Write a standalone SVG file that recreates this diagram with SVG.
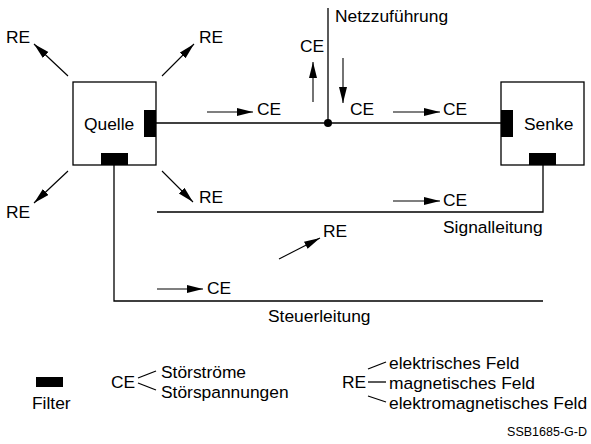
<svg xmlns="http://www.w3.org/2000/svg" width="591" height="444" viewBox="0 0 591 444">
<style>
text{font-family:"Liberation Sans",Arial,sans-serif;font-size:17.4px;fill:#000}
.box{fill:#fff;stroke:#000;stroke-width:1.3}
.flt{fill:#000}
.ln{fill:none;stroke:#000;stroke-width:1.3}
.ar{fill:none;stroke:#000;stroke-width:1.1;marker-end:url(#ah)}
.sm{font-size:12.5px}
</style>
<defs>
<marker id="ah" markerUnits="userSpaceOnUse" markerWidth="18" markerHeight="9" refX="16" refY="4" orient="auto">
<path d="M0,0 L16,4 L0,8 z" fill="#000"/>
</marker>
</defs>
<g id="connectors">
<line class="ln" x1="156" y1="123" x2="501" y2="123"/>
<line class="ln" x1="328" y1="8" x2="328" y2="123"/>
<circle cx="328" cy="123" r="4" fill="#000"/>
<polyline class="ln" points="157,212 543,212 543,165"/>
<polyline class="ln" points="114,165 114,301 543,301"/>
<line class="ar" x1="68" y1="76" x2="34" y2="44"/>
<line class="ar" x1="162" y1="76" x2="194" y2="44"/>
<line class="ar" x1="68" y1="171" x2="34" y2="203"/>
<line class="ar" x1="162" y1="171" x2="193" y2="202"/>
<line class="ar" x1="279" y1="259" x2="320" y2="238"/>
<line class="ar" x1="207" y1="112" x2="253" y2="112"/>
<line class="ar" x1="393" y1="112" x2="440" y2="112"/>
<line class="ar" x1="313" y1="102" x2="313" y2="62"/>
<line class="ar" x1="343" y1="58" x2="343" y2="103"/>
<line class="ar" x1="393" y1="201" x2="440" y2="201"/>
<line class="ar" x1="157" y1="289" x2="203" y2="289"/>
</g>
<g id="quelle">
<rect class="box" x="73" y="82" width="83" height="83"/>
<rect class="flt" x="144" y="110" width="12" height="27"/>
<rect class="flt" x="101" y="153" width="27" height="12"/>
<text x="84" y="130">Quelle</text>
</g>
<g id="senke">
<rect class="box" x="501" y="82" width="83" height="83"/>
<rect class="flt" x="501" y="110" width="12" height="27"/>
<rect class="flt" x="529" y="153" width="27" height="12"/>
<text x="524" y="130">Senke</text>
</g>
<g id="labels">
<text x="6" y="43">RE</text>
<text x="199" y="43">RE</text>
<text x="6" y="218">RE</text>
<text x="199" y="203">RE</text>
<text x="323" y="237">RE</text>
<text x="257" y="115">CE</text>
<text x="300" y="52">CE</text>
<text x="350" y="115">CE</text>
<text x="443" y="115">CE</text>
<text x="443" y="206">CE</text>
<text x="207" y="294">CE</text>
<text x="335" y="22">Netzzuführung</text>
<text x="443" y="233">Signalleitung</text>
<text x="268" y="322">Steuerleitung</text>
</g>
<g id="legend">
<rect class="flt" x="36" y="377" width="27" height="10"/>
<text x="32" y="409">Filter</text>
<text x="111" y="388">CE</text>
<line class="ln" x1="138" y1="378" x2="156" y2="371" stroke-width="1"/>
<line class="ln" x1="138" y1="383" x2="156" y2="390" stroke-width="1"/>
<text x="161" y="378">Störströme</text>
<text x="161" y="398">Störspannungen</text>
<text x="342" y="388">RE</text>
<line class="ln" x1="368" y1="369" x2="386" y2="362" stroke-width="1"/>
<line class="ln" x1="368" y1="382" x2="386" y2="382" stroke-width="1"/>
<line class="ln" x1="368" y1="396" x2="386" y2="402" stroke-width="1"/>
<text x="389" y="369">elektrisches Feld</text>
<text x="389" y="389">magnetisches Feld</text>
<text x="389" y="409">elektromagnetisches Feld</text>
<text class="sm" x="587" y="436" text-anchor="end">SSB1685-G-D</text>
</g>
</svg>
